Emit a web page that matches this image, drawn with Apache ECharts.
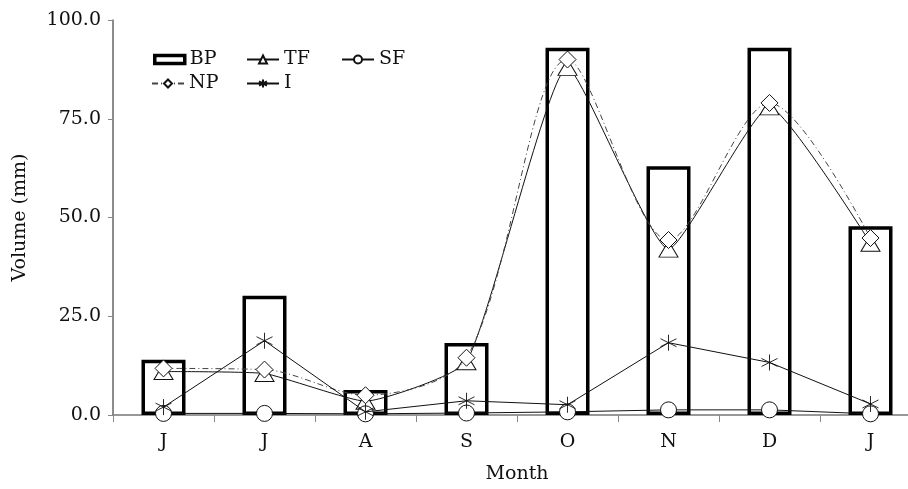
<!DOCTYPE html>
<html><head><meta charset="utf-8">
<script src="https://cdn.jsdelivr.net/npm/echarts@6/dist/echarts.min.js"></script>
<style>html,body{margin:0;padding:0;background:#fff}#c{width:908px;height:489px}</style>
</head><body><div id="c"></div>
<script>
const months = ['J','J','A','S','O','N','D','J'];
const yTicks = [0, 25, 50, 75, 100];
const BP = [14.0, 30.2, 6.3, 18.2, 93.0, 63.0, 93.0, 47.8];
const TF = [11.0, 10.5, 3.5, 13.5, 88.0, 42.0, 78.0, 43.5];
const SF = [0.4, 0.4, 0.3, 0.5, 0.8, 1.3, 1.3, 0.3];
const NP = [11.8, 11.5, 5.0, 14.5, 90.0, 44.3, 79.0, 44.8];
const I = [2.0, 18.8, 0.8, 3.6, 2.6, 18.3, 13.3, 2.8];

const FONT = 'DejaVu Serif';
const star = 'path://M0,-1L0,1M-0.866,-0.5L0.866,0.5M-0.866,0.5L0.866,-0.5';
const chart = echarts.init(document.getElementById('c'));
const txt = {fontFamily: FONT, fontSize: 19, color: '#111'};
const lg = (name, left, top, extra) => Object.assign({data: [name], left, top, itemWidth: 32, itemHeight: 10, itemGap: 10, textStyle: Object.assign({}, txt, {padding: [0, 0, 0, 0]})}, extra || {});
chart.setOption({
  animation: false,
  backgroundColor: '#fff',
  grid: {left: 113, top: 20, width: 808, height: 395, containLabel: false, outerBoundsMode: 'none'},
  legend: [
    lg('BP', 148, 45, {data: [{name: 'BP', icon: 'rect', itemStyle: {color: '#fff', borderColor: '#000', borderWidth: 3.5}}], itemWidth: 30, itemHeight: 8}),
    lg('TF', 241, 45),
    lg('SF', 336, 45),
    lg('NP', 146, 69),
    lg('I', 241, 69)
  ],
  xAxis: {
    type: 'category', data: months, boundaryGap: true,
    name: 'Month', nameLocation: 'middle', nameGap: 50,
    nameTextStyle: txt,
    axisLine: {lineStyle: {color: '#777', width: 1.5}},
    axisTick: {show: true, length: 7, lineStyle: {color: '#888'}},
    axisLabel: Object.assign({margin: 18}, txt)
  },
  yAxis: {
    type: 'value', min: 0, max: 100, interval: 25,
    name: 'Volume (mm)', nameLocation: 'middle', nameGap: 83, nameRotate: 90,
    nameTextStyle: txt,
    splitLine: {show: false},
    axisLine: {show: true, lineStyle: {color: '#666', width: 1.5}},
    axisTick: {show: true, length: 5, lineStyle: {color: '#888'}},
    axisLabel: Object.assign({margin: 12, formatter: v => yTicks.includes(v) ? v.toFixed(1) : ''}, txt)
  },
  series: [
    {name: 'BP', type: 'bar', data: BP, barWidth: 44, z: 1,
     itemStyle: {color: '#fff', borderColor: '#000', borderWidth: 3.5}},
    {name: 'TF', type: 'line', data: TF, smooth: 0.15, symbol: 'triangle', symbolSize: [19, 16], z: 3,
     lineStyle: {color: '#111', width: 1}, itemStyle: {color: '#fff', borderColor: '#111', borderWidth: 1}},
    {name: 'SF', type: 'line', data: SF, symbol: 'circle', symbolSize: 16, z: 3,
     lineStyle: {color: '#111', width: 1}, itemStyle: {color: '#fff', borderColor: '#111', borderWidth: 1}},
    {name: 'NP', type: 'line', data: NP, smooth: 0.3, symbol: 'diamond', symbolSize: 17, z: 4,
     lineStyle: {color: '#444', width: 1, type: [6, 3, 1, 3]}, itemStyle: {color: '#fff', borderColor: '#111', borderWidth: 1}},
    {name: 'I', type: 'line', data: I, symbol: star, symbolSize: 16, z: 5,
     lineStyle: {color: '#111', width: 1}, itemStyle: {color: '#fff', borderColor: '#111', borderWidth: 0.9}}
  ]
});
</script></body></html>
